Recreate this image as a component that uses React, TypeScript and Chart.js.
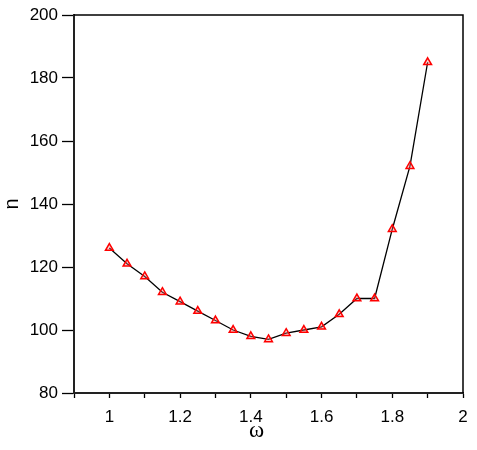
import React, { useEffect, useRef } from "react";
import { Chart, registerables } from "chart.js";

Chart.register(...registerables);

const omega: number[] = [1.0, 1.05, 1.1, 1.15, 1.2, 1.25, 1.3, 1.35, 1.4, 1.45, 1.5, 1.55, 1.6, 1.65, 1.7, 1.75, 1.8, 1.85, 1.9];
const nValues: number[] = [126, 121, 117, 112, 109, 106, 103, 100, 98, 97, 99, 100, 101, 105, 110, 110, 132, 152, 185];
const xTitle = "ω";
const yTitle = "n";

const frameAndTitles = {
  id: "frameAndTitles",
  afterDraw(chart: any) {
    const { ctx, chartArea } = chart;
    ctx.save();
    ctx.strokeStyle = "#000";
    ctx.lineWidth = 1.5;
    ctx.beginPath();
    ctx.moveTo(chartArea.left, chartArea.top);
    ctx.lineTo(chartArea.right, chartArea.top);
    ctx.lineTo(chartArea.right, chartArea.bottom);
    ctx.stroke();

    ctx.fillStyle = "#000";
    ctx.textAlign = "center";
    ctx.textBaseline = "middle";
    ctx.font = "23px 'Liberation Serif', serif";
    ctx.fillText(xTitle, 256.5, 431);

    ctx.translate(12.5, 204);
    ctx.rotate(-Math.PI / 2);
    ctx.font = "20px 'Liberation Sans', Arial, sans-serif";
    ctx.fillText(yTitle, 0, 0);
    ctx.restore();
  },
};

export default function App() {
  const ref = useRef<HTMLCanvasElement | null>(null);

  useEffect(() => {
    if (!ref.current) return;
    const chart = new Chart(ref.current, {
      type: "line",
      data: {
        datasets: [
          {
            data: omega.map((x, i) => ({ x, y: nValues[i] })),
            borderColor: "#000",
            borderWidth: 1.3,
            tension: 0,
            pointStyle: "triangle",
            pointRadius: 4.5,
            pointBorderWidth: 1.5,
            pointBorderColor: "#ff0000",
            pointBackgroundColor: "rgba(255,120,120,0.35)",
          },
        ],
      },
      options: {
        responsive: false,
        animation: false,
        layout: { padding: { left: 0, top: 15, right: 14, bottom: 0 } },
        plugins: { legend: { display: false }, tooltip: { enabled: false } },
        scales: {
          x: {
            type: "linear",
            min: 0.9,
            max: 2,
            afterFit: (s: any) => {
              s.height = 57;
            },
            border: { display: true, color: "#222", width: 2 },
            grid: { drawOnChartArea: false, drawTicks: true, tickLength: 5, tickColor: "#000", tickWidth: 1.3 },
            ticks: {
              stepSize: 0.1,
              autoSkip: false,
              maxRotation: 0,
              padding: 9,
              color: "#000",
              font: { family: "'Liberation Sans', Arial, sans-serif", size: 17 },
              callback: (v: any) => {
                const t = Math.round(Number(v) * 10);
                if (t % 2 !== 0) return "";
                const val = t / 10;
                return Number.isInteger(val) ? String(val) : val.toFixed(1);
              },
            },
          },
          y: {
            type: "linear",
            min: 80,
            max: 200,
            afterFit: (s: any) => {
              s.width = 74;
            },
            border: { display: true, color: "#222", width: 2 },
            grid: { drawOnChartArea: false, drawTicks: true, tickLength: 12, tickColor: "#000", tickWidth: 1.3 },
            ticks: {
              stepSize: 20,
              padding: 4,
              color: "#000",
              font: { family: "'Liberation Sans', Arial, sans-serif", size: 17 },
            },
          },
        },
      },
      plugins: [frameAndTitles],
    });
    return () => chart.destroy();
  }, []);

  return (
    <div style={{ position: "absolute", left: 0, top: 0, width: 477, height: 450, background: "#fff" }}>
      <canvas ref={ref} width={477} height={450} />
    </div>
  );
}
